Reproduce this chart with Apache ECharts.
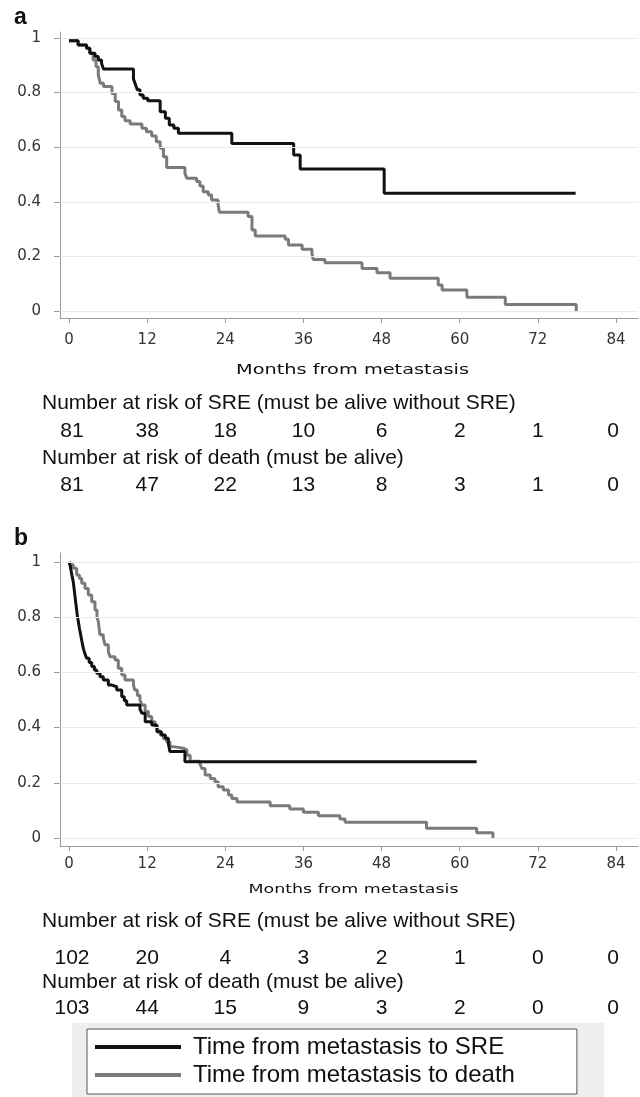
<!DOCTYPE html>
<html>
<head>
<meta charset="utf-8">
<script src="https://cdn.jsdelivr.net/npm/echarts@6/dist/echarts.min.js"></script>
<style>html,body{margin:0;padding:0;background:#fff}#c{width:640px;height:1097px}</style>
</head>
<body>
<div id="c"></div>
<script>
// ---------- data ----------
const monthTicks = [0, 12, 24, 36, 48, 60, 72, 84];
const yTicks = [0, 0.2, 0.4, 0.6, 0.8, 1];
const seriesNames = ['Time from metastasis to SRE', 'Time from metastasis to death'];
const axisTitle = 'Months from metastasis';
const riskTitleSRE = 'Number at risk of SRE (must be alive without SRE)';
const riskTitleDeath = 'Number at risk of death (must be alive)';
const panelLabels = ['a', 'b'];

// panel a: [month, survival]
const sreA = [[0,0.99],[1.4,0.974],[2.7,0.962],[3.2,0.944],[4.0,0.932],[4.5,0.919],[5.0,0.907],[5.3,0.886],
  [9.9,0.85],[10.2,0.83],[10.5,0.81],[10.9,0.791],[11.4,0.779],[12.1,0.77],[14.0,0.73],[14.8,0.706],[15.4,0.681],
  [16.1,0.669],[16.8,0.651],[25.0,0.614],[34.5,0.571],[35.5,0.52],[48.4,0.431],[77.8,0.431]];
const deathA = [[0,0.99],[1.4,0.974],[2.7,0.962],[3.2,0.944],[3.7,0.919],[4.15,0.895],[4.5,0.864],[4.8,0.834],
  [5.3,0.822],[6.6,0.797],[7.1,0.767],[7.6,0.736],[8.1,0.712],[8.6,0.697],[9.4,0.685],[11.2,0.669],[11.9,0.657],
  [12.7,0.641],[13.4,0.62],[14.0,0.596],[14.5,0.565],[15.0,0.526],[17.8,0.504],[18.1,0.486],[19.6,0.474],
  [20.1,0.458],[20.6,0.437],[21.4,0.425],[21.9,0.407],[22.9,0.388],[23.1,0.362],[27.5,0.346],[28.1,0.297],
  [28.6,0.275],[33.2,0.263],[33.7,0.242],[35.8,0.226],[37.3,0.211],[37.5,0.189],[39.3,0.177],[45.0,0.156],
  [47.3,0.14],[49.3,0.12],[56.7,0.095],[57.3,0.077],[61.1,0.05],[67.0,0.024],[77.9,0.024],[77.9,0]];
const riskSreA = [81, 38, 18, 10, 6, 2, 1, 0];
const riskDeathA = [81, 47, 22, 13, 8, 3, 1, 0];

// panel b
const sreB = [[0,1.0],[0.2,0.985],[0.35,0.965],[0.5,0.945],[0.65,0.929],[0.8,0.9],[0.95,0.87],[1.08,0.844],
  [1.25,0.812],[1.43,0.784],[1.6,0.76],[1.8,0.736],[2.0,0.71],[2.2,0.687],[2.45,0.667],[2.72,0.651],[3.1,0.636],
  [3.49,0.621],[3.9,0.609],[4.25,0.597],[4.76,0.584],[5.27,0.572],[6.04,0.554],[6.6,0.548],[7.33,0.536],
  [8.1,0.512],[8.5,0.497],[8.86,0.482],[10.9,0.467],[11.2,0.452],[11.7,0.421],[12.7,0.409],[13.5,0.385],
  [14.2,0.373],[14.8,0.361],[15.25,0.343],[15.5,0.313],[17.8,0.276],[62.6,0.276]];
const deathB = [[0,1.0],[0.3,0.99],[0.66,0.977],[1.18,0.953],[1.6,0.94],[1.95,0.923],[2.46,0.904],[2.97,0.88],
  [3.49,0.856],[3.99,0.826],[4.3,0.8],[4.5,0.784],[4.65,0.755],[4.76,0.736],[5.27,0.724],[5.53,0.7],[6.04,0.675],
  [6.3,0.657],[7.07,0.645],[7.57,0.615],[8.1,0.591],[8.6,0.572],[9.9,0.555],[10.1,0.536],[10.5,0.516],[10.9,0.5],
  [11.2,0.482],[11.7,0.458],[12.2,0.44],[12.7,0.421],[13.2,0.403],[13.6,0.388],[14.0,0.373],[14.5,0.36],
  [15.0,0.349],[15.5,0.331],[16.0,0.325],[17.6,0.319],[18.1,0.3],[18.6,0.278],[20.1,0.27],[20.4,0.252],
  [20.9,0.228],[21.7,0.216],[22.4,0.204],[22.9,0.186],[23.7,0.174],[24.5,0.156],[25.0,0.143],[25.8,0.13],
  [30.9,0.117],[33.9,0.105],[36.0,0.093],[38.3,0.081],[41.6,0.069],[42.4,0.057],[54.9,0.035],[62.6,0.019],
  [65.1,0.019],[65.1,0]];
const riskSreB = [102, 20, 4, 3, 2, 1, 0, 0];
const riskDeathB = [103, 44, 15, 9, 3, 2, 0, 0];

// ---------- layout ----------
const XMIN = -1.382, XMAX = 87.378;
const AX = '#9a9a9a';
const BLACK = '#111111', GREY = '#7a7a7a';

function xAxisCfg(gi, margin) {
  return {
    type: 'value', gridIndex: gi, min: XMIN, max: XMAX,
    axisLine: { show: true, onZero: false, lineStyle: { color: AX, width: 1 } },
    axisTick: { show: true, customValues: monthTicks, length: 5, lineStyle: { color: AX } },
    axisLabel: { customValues: monthTicks, margin: margin, fontFamily: 'DejaVu Sans', fontSize: 15, color: '#333' },
    splitLine: { show: false }
  };
}
function yAxisCfg(gi, min, max) {
  return {
    type: 'value', gridIndex: gi, min: min, max: max,
    axisLine: { show: true, onZero: false, lineStyle: { color: AX, width: 1 } },
    axisTick: { show: true, customValues: yTicks, length: 6, lineStyle: { color: AX } },
    axisLabel: { customValues: yTicks, margin: 19, fontFamily: 'DejaVu Sans', fontSize: 15, color: '#333',
      formatter: v => String(Math.round(v * 10) / 10) },
    splitLine: { show: false }
  };
}
function gridLines() {
  return { silent: true, symbol: 'none', label: { show: false }, animation: false,
    lineStyle: { color: '#eaeaea', width: 1, type: 'solid' },
    data: yTicks.map(v => ({ yAxis: v })) };
}
function km(name, data, gi, color, width, withGrid) {
  const s = { name: name, type: 'line', step: 'end', xAxisIndex: gi, yAxisIndex: gi, data: data,
    symbol: 'none', lineStyle: { color: color, width: width }, itemStyle: { color: color }, animation: false };
  if (withGrid) s.markLine = gridLines();
  return s;
}

const chart = echarts.init(document.getElementById('c'));
chart.setOption({
  backgroundColor: '#ffffff',
  animation: false,
  grid: [
    { left: 60, top: 32, width: 578, height: 286 },
    { left: 60, top: 553, width: 578, height: 293 }
  ],
  xAxis: [xAxisCfg(0, 15), xAxisCfg(1, 11)],
  yAxis: [yAxisCfg(0, -0.02564, 1.02198), yAxisCfg(1, -0.029, 1.0326)],
  legend: {
    data: seriesNames, orient: 'vertical', left: 87, top: 1029,
    padding: [6, 62, 7, 8], itemGap: 4, itemWidth: 86, itemHeight: 4, icon: 'rect',
    backgroundColor: '#ffffff', borderColor: '#555', borderWidth: 1,
    textStyle: { fontFamily: 'Liberation Sans', fontSize: 24, lineHeight: 23, color: '#111', padding: [0, 0, 0, 7] },
    selectedMode: false
  },
  series: [
    km(seriesNames[1], deathA, 0, GREY, 3, true),
    km(seriesNames[0], sreA, 0, BLACK, 3, false),
    km(seriesNames[1], deathB, 1, GREY, 3, true),
    km(seriesNames[0], sreB, 1, BLACK, 3, false)
  ]
});

// ---------- texts placed through the axis scale ----------
const px = (gi, m) => chart.convertToPixel({ gridIndex: gi }, [m, 0])[0];
const FONT_T = '21px "Liberation Sans", Arial, sans-serif';
function txt(x, y, text, font, align, extra) {
  return Object.assign({ type: 'text', x: x, y: y, silent: true,
    style: { text: text, font: font, fill: '#111', textAlign: align || 'left', textVerticalAlign: 'middle' } }, extra || {});
}
function riskRow(gi, values, y) {
  return values.map((v, i) => txt(px(gi, monthTicks[i]) + (i === 0 ? 3 : (i === values.length - 1 ? -3 : 0)), y, String(v), FONT_T, 'center'));
}
const mid = px(0, 42);
const g = [];
g.push({ type: 'rect', shape: { x: 72, y: 1023, width: 532, height: 74 }, style: { fill: '#eeeeee' }, z: -1, silent: true });
g.push(txt(14, 18, panelLabels[0], 'bold 23px "Liberation Sans", Arial, sans-serif'));
g.push(txt(14, 539, panelLabels[1], 'bold 23px "Liberation Sans", Arial, sans-serif'));
g.push(txt(mid + 10, 370, axisTitle, '14px "DejaVu Sans", sans-serif', 'center', { scaleX: 1.38 }));
g.push(txt(mid + 11, 890, axisTitle, '13px "DejaVu Sans", sans-serif', 'center', { scaleX: 1.34 }));
g.push(txt(42, 403, riskTitleSRE, FONT_T));
g.push(...riskRow(0, riskSreA, 431));
g.push(txt(42, 458, riskTitleDeath, FONT_T));
g.push(...riskRow(0, riskDeathA, 485));
g.push(txt(42, 921, riskTitleSRE, FONT_T));
g.push(...riskRow(1, riskSreB, 958));
g.push(txt(42, 982, riskTitleDeath, FONT_T));
g.push(...riskRow(1, riskDeathB, 1008));
chart.setOption({ graphic: g });
</script>
</body>
</html>
